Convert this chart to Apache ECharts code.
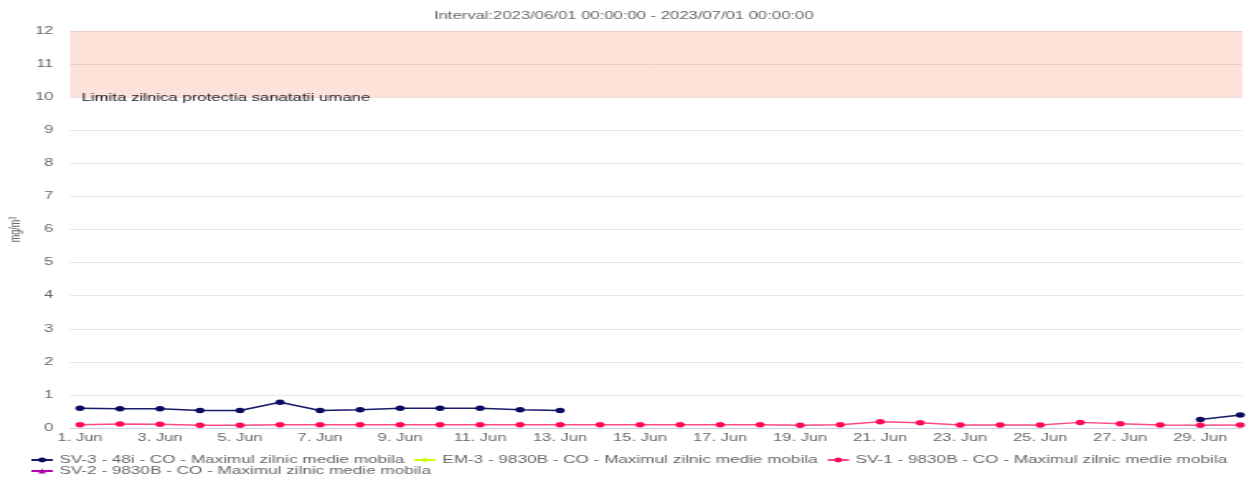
<!DOCTYPE html>
<html>
<head>
<meta charset="utf-8">
<script src="https://cdn.jsdelivr.net/npm/echarts@6/dist/echarts.min.js"></script>
<style>
  html, body { margin: 0; padding: 0; overflow: hidden; background: #fff; }
  /* the reference picture is stretched sideways, so the chart is drawn narrower and widened */
  #chart { height: 489px; transform-origin: 0 0; }
</style>
</head>
<body>
<div id="chart"></div>
<script>
// data (June 2023, daily maxima, mg/m3)
const days = [1, 2, 3, 4, 5, 6, 7, 8, 9, 10, 11, 12, 13, 14, 15, 16, 17, 18, 19, 20, 21, 22, 23, 24, 25, 26, 27, 28, 29, 30];
const dayTicks = [1, 3, 5, 7, 9, 11, 13, 15, 17, 19, 21, 23, 25, 27, 29];
const sv3 = [0.6, 0.58, 0.58, 0.53, 0.53, 0.78, 0.53, 0.55, 0.6, 0.6, 0.6, 0.55, 0.53,
  null, null, null, null, null, null, null, null, null, null, null, null, null, null, null,
  0.26, 0.39];
const em3 = days.map(() => null);
const sv1 = [0.1, 0.12, 0.11, 0.08, 0.08, 0.1, 0.1, 0.1, 0.1, 0.1, 0.1, 0.1, 0.1, 0.1, 0.1,
  0.1, 0.1, 0.1, 0.08, 0.1, 0.19, 0.16, 0.09, 0.09, 0.09, 0.17, 0.13, 0.09, 0.08, 0.09];
const sv2 = days.map(() => null);
const yTicks = [0, 1, 2, 3, 4, 5, 6, 7, 8, 9, 10, 11, 12];
const limitBand = [10, 12];

const S = 1.65;
const el = document.getElementById('chart');
el.style.width = (1248 / S) + 'px';
el.style.transform = 'scaleX(' + S + ')';

const font = 'Liberation Sans, Arial, sans-serif';
const pair = arr => days.map((d, i) => [d, arr[i]]);
const legendText = { color: '#666', fontSize: 10.4, fontFamily: font, padding: [0, 0, 0, -1] };

let chart = echarts.init(el);
let option = {
  animation: false,
  textStyle: { fontFamily: font },
  title: {
    text: 'Interval:2023/06/01 00:00:00 - 2023/07/01 00:00:00',
    left: 'center',
    top: 6,
    textStyle: { color: '#666', fontSize: 10.1, fontWeight: 'normal', fontFamily: font }
  },
  grid: { left: 42.4, right: 3.1, top: 31, bottom: 61, outerBoundsMode: 'none' },
  legend: [
    {
      data: ['SV-3 - 48i - CO - Maximul zilnic medie mobila', 'EM-3 - 9830B - CO - Maximul zilnic medie mobila', 'SV-1 - 9830B - CO - Maximul zilnic medie mobila'],
      left: 18, top: 455, itemGap: 5, itemWidth: 13, itemHeight: 6, padding: 0,
      textStyle: legendText
    },
    {
      data: ['SV-2 - 9830B - CO - Maximul zilnic medie mobila'],
      left: 18, top: 466, itemWidth: 13, itemHeight: 6, padding: 0,
      textStyle: legendText
    }
  ],
  xAxis: {
    type: 'value',
    min: 0.75,
    max: 30.05,
    axisLine: { show: true, onZero: false, lineStyle: { color: '#ccd6eb' } },
    axisTick: { show: false },
    splitLine: { show: false },
    axisLabel: {
      customValues: dayTicks,
      formatter: v => v + '. Jun',
      color: '#666', fontSize: 10, margin: 5, fontFamily: font
    }
  },
  yAxis: {
    type: 'value',
    min: yTicks[0],
    max: yTicks[yTicks.length - 1],
    interval: 1,
    name: 'mg/m³',
    nameLocation: 'middle',
    nameGap: 28,
    nameMoveOverlap: false,
    nameTextStyle: { color: '#666', fontSize: 9, fontFamily: font },
    axisLine: { show: false },
    axisTick: { show: false },
    splitLine: { lineStyle: { color: '#e6e6e6' } },
    axisLabel: { color: '#666', fontSize: 10, margin: 10, fontFamily: font }
  },
  series: [
    {
      name: 'SV-3 - 48i - CO - Maximul zilnic medie mobila',
      type: 'line',
      data: pair(sv3),
      symbol: 'circle',
      symbolSize: 5.5,
      itemStyle: { color: '#0a0a5e' },
      lineStyle: { color: '#1a1a6a', width: 1.5 },
      z: 3,
      markArea: {
        silent: true,
        itemStyle: { color: 'rgba(245, 110, 70, 0.2)' },
        label: {
          show: true,
          position: [7, 67],
          verticalAlign: 'middle',
          color: '#222',
          fontSize: 10.2,
          fontFamily: font
        },
        data: [[
          { name: 'Limita zilnica protectia sanatatii umane', yAxis: limitBand[0] },
          { yAxis: limitBand[1] }
        ]]
      }
    },
    {
      name: 'EM-3 - 9830B - CO - Maximul zilnic medie mobila',
      type: 'line',
      data: pair(em3),
      symbol: 'diamond',
      symbolSize: 6,
      itemStyle: { color: '#ccff00' },
      lineStyle: { color: '#ccff00', width: 1.5 }
    },
    {
      name: 'SV-1 - 9830B - CO - Maximul zilnic medie mobila',
      type: 'line',
      data: pair(sv1),
      symbol: 'circle',
      symbolSize: 5.5,
      itemStyle: { color: '#ff0a55' },
      lineStyle: { color: '#ff4a85', width: 1.5 },
      z: 2
    },
    {
      name: 'SV-2 - 9830B - CO - Maximul zilnic medie mobila',
      type: 'line',
      data: pair(sv2),
      symbol: 'triangle',
      symbolSize: 6,
      itemStyle: { color: '#b000b0' },
      lineStyle: { color: '#b000b0', width: 1.5 }
    }
  ]
};
chart.setOption(option);
</script>
</body>
</html>
